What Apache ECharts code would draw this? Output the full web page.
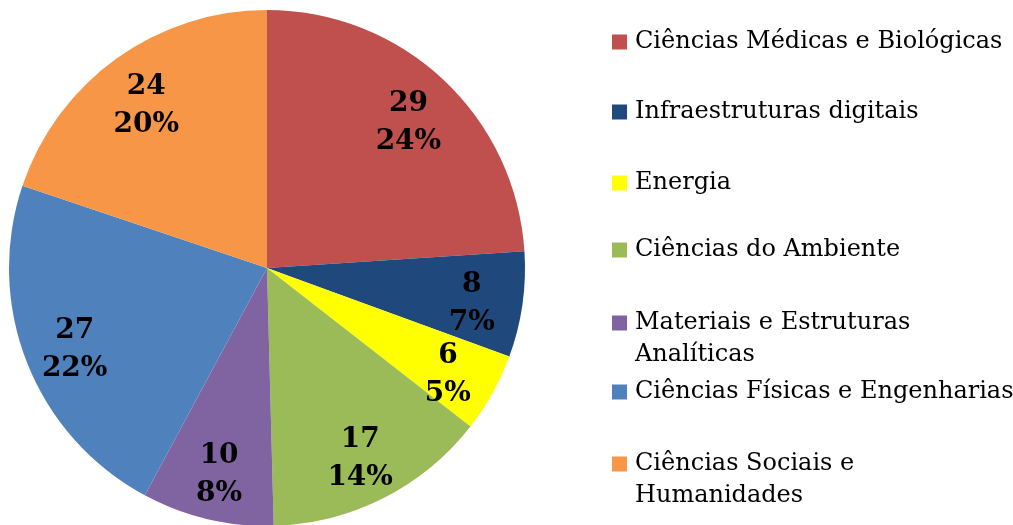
<!DOCTYPE html>
<html><head><meta charset="utf-8">
<script src="https://cdn.jsdelivr.net/npm/echarts@6/dist/echarts.min.js"></script>
<style>html,body{margin:0;padding:0;background:#fff}#c{width:1013px;height:525px}</style>
</head><body><div id="c"></div>
<script>
const categories = ['Ciências Médicas e Biológicas','Infraestruturas digitais','Energia','Ciências do Ambiente','Materiais e Estruturas Analíticas','Ciências Físicas e Engenharias','Ciências Sociais e Humanidades'];
const values = [29, 8, 6, 17, 10, 27, 24];
const legendLines = [['Ciências Médicas e Biológicas'],['Infraestruturas digitais'],['Energia'],['Ciências do Ambiente'],['Materiais e Estruturas','Analíticas'],['Ciências Físicas e Engenharias'],['Ciências Sociais e','Humanidades']];
const colors = ['#C0504D','#1F497D','#FFFF00','#9BBB59','#8064A2','#4F81BD','#F79646'];

const FONT = 'DejaVu Serif';
const legendCenters = [42, 112, 183, 250, 323, 392, 464];
const lineStep = 32;
const R = 258, CX = 267, CY = 268;

const data = categories.map((n, i) => ({ name: n, value: values[i], itemStyle: { color: colors[i] } }));

const legends = categories.map((n, i) => ({
  orient: 'vertical', left: 612, top: legendCenters[i] - 15, padding: 0,
  data: [n], icon: 'rect', itemWidth: 15, itemHeight: 15,
  selectedMode: false,
  formatter: () => legendLines[i][0],
  textStyle: { fontFamily: FONT, fontSize: 24, color: '#000', lineHeight: 30, padding: [0,0,0,3] }
}));

const graphics = [];
legendLines.forEach((l, i) => {
  if (l.length > 1) graphics.push({ type: 'text', left: 635, top: legendCenters[i] + lineStep - 15,
    style: { text: l[1], font: '24px "' + FONT + '"', fill: '#000', lineHeight: 30, verticalAlign: 'top' } });
});

const chart = echarts.init(document.getElementById('c'));
chart.setOption({
  animation: false,
  legend: legends,
  graphic: graphics,
  series: [{
    type: 'pie', center: [CX, CY], radius: [0, R], startAngle: 90, clockwise: true,
    data: data, label: { show: false }, labelLine: { show: false },
    itemStyle: { borderWidth: 0 }, emphasis: { disabled: true }, silent: true
  }, {
    type: 'pie', center: [CX, CY], radius: [0, R * 1.58], startAngle: 90, clockwise: true,
    data: data.map(d => ({ name: d.name, value: d.value })), percentPrecision: 0,
    itemStyle: { color: 'rgba(0,0,0,0)', borderWidth: 0 }, emphasis: { disabled: true }, silent: true,
    labelLayout: { hideOverlap: false },
    label: { show: true, position: 'inside', offset: [0, 6], formatter: '{c}\n{d}%', fontFamily: FONT, fontWeight: 'bold', fontSize: 28, lineHeight: 38, color: '#000' },
    labelLine: { show: false }
  }]
});
</script></body></html>
